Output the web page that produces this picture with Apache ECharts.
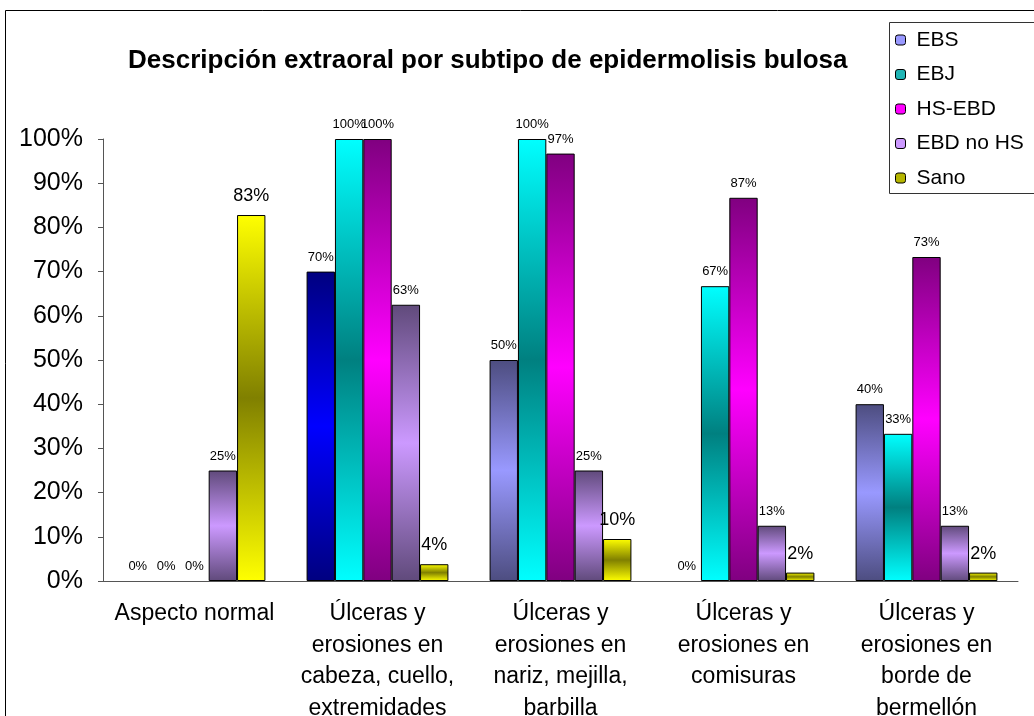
<!DOCTYPE html>
<html>
<head>
<meta charset="utf-8">
<script src="https://cdn.jsdelivr.net/npm/echarts@6/dist/echarts.min.js"></script>
<style>html,body{margin:0;padding:0;background:#fff;}#chart{width:1034px;height:716px;}</style>
</head>
<body>
<div id="chart"></div>
<script>
var categories = [
  "Aspecto normal",
  "Úlceras y\nerosiones en\ncabeza, cuello,\nextremidades",
  "Úlceras y\nerosiones en\nnariz, mejilla,\nbarbilla",
  "Úlceras y\nerosiones en\ncomisuras",
  "Úlceras y\nerosiones en\nborde de\nbermellón"
];
var seriesNames = ["EBS", "EBJ", "HS-EBD", "EBD no HS", "Sano"];
var ebs = [0, 70, 50, 0, 40];
var ebj = [0, 100, 100, 66.7, 33.3];
var hsEbd = [0, 100, 96.7, 86.7, 73.3];
var ebdNoHs = [25, 62.5, 25, 12.5, 12.5];
var sano = [82.8, 3.8, 9.5, 1.9, 1.9];
var yTicks = [0, 10, 20, 30, 40, 50, 60, 70, 80, 90, 100];

var FONT = "'Liberation Sans', Arial, sans-serif";
function grad(a, b) {
  return new echarts.graphic.LinearGradient(0, 0, 0, 1, [
    {offset: 0, color: a}, {offset: 0.5, color: b}, {offset: 1, color: a}
  ]);
}
var styles = [
  grad('#4D4D80', '#9999FF'),
  grad('#00FFFF', '#008080'),
  grad('#800080', '#FF00FF'),
  grad('#604A7B', '#CC99FF'),
  grad('#FFFF00', '#808000')
];
var legendColors = ['#9999FF', '#1FB5B5', '#FF00FF', '#CC99FF', '#B5B500'];
var allData = [ebs, ebj, hsEbd, ebdNoHs, sano];

var series = allData.map(function (vals, si) {
  var big = si === 4;
  return {
    name: seriesNames[si],
    type: 'bar',
    barGap: '0%',
    barCategoryGap: '22.5%',
    data: vals.map(function (v, ci) {
      var item = {value: v};
      if (si === 0 && ci === 1) {
        item.itemStyle = {color: grad('#000080', '#0000FF')};
      }
      if (v === 0) {
        item.itemStyle = {borderWidth: 0};
      }
      return item;
    }),
    itemStyle: {color: styles[si], borderColor: '#000', borderWidth: 1},
    label: {
      show: true,
      position: 'top',
      distance: big ? 10 : 8,
      fontFamily: FONT,
      fontSize: big ? 18 : 13,
      color: '#000',
      formatter: function (p) { return Math.round(p.value) + '%'; }
    }
  };
});

var chart = echarts.init(document.getElementById('chart'));
chart.setOption({
  backgroundColor: '#fff',
  animation: false,
  title: {
    text: 'Descripción extraoral por subtipo de epidermolisis bulosa',
    left: 123, top: 43,
    textStyle: {fontFamily: FONT, fontSize: 26, fontWeight: 'bold', color: '#000'}
  },
  legend: {
    orient: 'vertical',
    left: 895, top: 29,
    padding: 0,
    itemWidth: 10, itemHeight: 10,
    itemGap: 12.5,
    data: seriesNames.map(function (n, i) {
      return {name: n, itemStyle: {color: legendColors[i], borderColor: '#000', borderWidth: 1}};
    }),
    textStyle: {fontFamily: FONT, fontSize: 21, lineHeight: 22, color: '#000', padding: [0, 0, 0, 6]}
  },
  grid: {left: 103, right: 16, top: 139, bottom: 135, containLabel: false, outerBoundsMode: 'none'},
  xAxis: {
    type: 'category',
    data: categories,
    axisLine: {lineStyle: {color: '#555', width: 1}},
    axisTick: {length: 6, lineStyle: {color: '#555'}},
    axisLabel: {fontFamily: FONT, fontSize: 23, lineHeight: 31.5, color: '#000', margin: 17, interval: 0}
  },
  yAxis: {
    type: 'value',
    min: yTicks[0], max: yTicks[yTicks.length - 1], interval: 10,
    splitLine: {show: false},
    axisLine: {show: true, lineStyle: {color: '#555', width: 1}},
    axisTick: {show: true, length: 5, lineStyle: {color: '#555'}},
    axisLabel: {fontFamily: FONT, fontSize: 25, color: '#000', margin: 20, formatter: '{value}%'}
  },
  graphic: [
    {type: 'rect', shape: {x: 5.5, y: 10.5, width: 1100, height: 800}, style: {fill: null, stroke: '#000', lineWidth: 1}, silent: true, z: -1},
    {type: 'rect', shape: {x: 889.5, y: 22.5, width: 200, height: 171}, style: {fill: '#fff', stroke: '#333', lineWidth: 1}, silent: true, z: 0}
  ],
  series: series
});
</script>
</body>
</html>
